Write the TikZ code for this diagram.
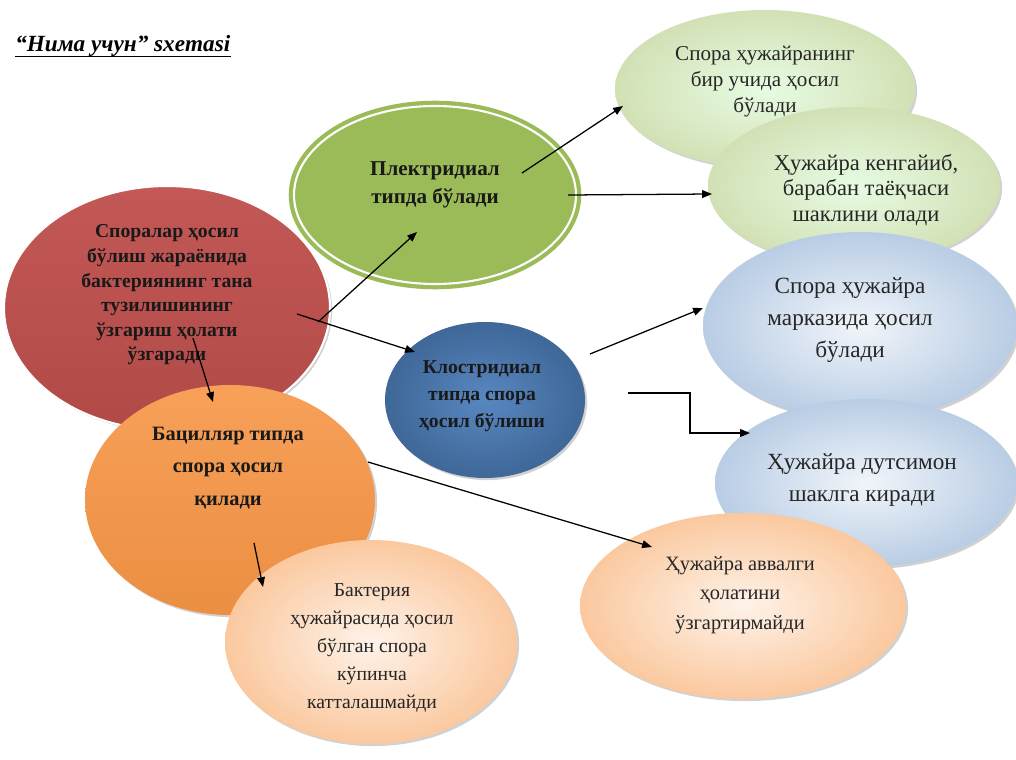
\documentclass[tikz,border=0pt]{standalone}
\usepackage{fontspec}
\setmainfont{Liberation Serif}
\usepackage{tikz}
\usetikzlibrary{shapes.geometric, shadows, arrows.meta}

\definecolor{redC}{HTML}{C0504D}
\definecolor{greenC}{HTML}{9BBB59}
\definecolor{blueC}{HTML}{4F81BD}
\definecolor{orangeC}{HTML}{F79646}

\newcommand{\fsz}[2]{\fontsize{#1}{#2}\selectfont}

\tikzset{
    blob/.style={ellipse, inner sep=0pt,
        drop shadow={shadow xshift=1.5pt, shadow yshift=-1.5pt, opacity=0.3, fill=black!60}},
    sz/.style 2 args={minimum width=#1*0.025cm, minimum height=#2*0.025cm},
    boldtxt/.style={align=center, text=black!90, inner sep=0pt},
    plaintxt/.style={align=center, text=black!85, inner sep=0pt},
    arr/.style={-{Triangle[length=7pt,width=5.5pt]}, line width=0.9pt},
}

\begin{document}
\begin{tikzpicture}[x=0.025cm, y=-0.025cm]

    \useasboundingbox (0,0) rectangle (1016,760);

    % -------------------------
    % Title
    % -------------------------
    \node[anchor=base west, inner sep=0pt, font=\bfseries\itshape\fsz{16.5}{19}] (title) at (15,52)
        {“Нима учун” sxemasi};
    \draw[line width=1pt] ([yshift=-3pt]title.base west) -- ([yshift=-3pt]title.base east);

    % -------------------------
    % Ellipses (back to front)
    % -------------------------
    \node[blob, sz={326}{244}, top color=redC!95!white, bottom color=redC!92!black,
          draw=white, line width=1.5pt] (red) at (167,308) {};

    \node[blob, sz={282}{178}, fill=greenC, draw=greenC, double=white,
          double distance=1.5pt, line width=3pt] (green) at (435,195) {};

    \node[blob, sz={300}{158}, inner color=green!8!white!95!greenC, outer color=greenC!45!white] (lgA) at (765,89) {};
    \node[blob, sz={292}{158}, inner color=green!8!white!95!greenC, outer color=greenC!45!white] (lgB) at (854,186) {};

    \node[blob, sz={314}{188}, inner color=blueC!8!white, outer color=blueC!40!white] (lbA) at (860,326) {};
    \node[blob, sz={302}{168}, inner color=blueC!8!white, outer color=blueC!40!white] (lbB) at (866,483) {};

    \node[blob, sz={326}{186}, inner color=orangeC!12!white, outer color=orangeC!52!white] (loA) at (743,606) {};

    \node[blob, sz={200}{156}, inner color=blueC!95!white, outer color=blueC!80!black] (blue) at (485,400) {};

    \node[blob, sz={290}{230}, top color=orangeC!90!white, bottom color=orangeC!95!black] (orange) at (230,500) {};

    \node[blob, sz={292}{204}, inner color=orangeC!12!white, outer color=orangeC!52!white] (loB) at (371,642) {};

    % -------------------------
    % Texts
    % -------------------------
    \node[boldtxt, font=\bfseries\fsz{14}{17.5}] (redTxt) at (167,295)
        {Споралар ҳосил\\ бўлиш жараёнида\\ бактериянинг тана\\ тузилишининг\\ ўзгариш ҳолати\\ ўзгаради};
    \node[boldtxt, font=\bfseries\fsz{15}{20}] (greenTxt) at (435,185)
        {Плектридиал\\ типда бўлади};
    \node[boldtxt, font=\bfseries\fsz{14}{19}] (blueTxt) at (482,396)
        {Клостридиал\\ типда спора\\ ҳосил бўлиши};
    \node[boldtxt, font=\bfseries\fsz{14.5}{23}] (orangeTxt) at (228,468)
        {Бацилляр типда\\ спора ҳосил\\ қилади};

    \node[plaintxt, font=\fsz{15}{18.5}] (lgATxt) at (765,82)
        {Спора ҳужайранинг\\ бир учида ҳосил\\ бўлади};
    \node[plaintxt, font=\fsz{16}{18}] (lgBTxt) at (866,190)
        {Ҳужайра кенгайиб,\\ барабан таёқчаси\\ шаклини олади};
    \node[plaintxt, font=\fsz{16.5}{23}] (lbATxt) at (850,320)
        {Спора ҳужайра\\ марказида ҳосил\\ бўлади};
    \node[plaintxt, font=\fsz{16.5}{23}] (lbBTxt) at (862,480)
        {Ҳужайра дутсимон\\ шаклга киради};
    \node[plaintxt, font=\fsz{14.5}{21}] (loATxt) at (740,595)
        {Ҳужайра аввалги\\ ҳолатини\\ ўзгартирмайди};
    \node[plaintxt, font=\fsz{14}{20}] (loBTxt) at (372,648)
        {Бактерия\\ ҳужайрасида ҳосил\\ бўлган спора\\ кўпинча\\ катталашмайди};

    % -------------------------
    % Arrow ends
    % -------------------------
    \coordinate (r1) at (318,322);  \coordinate (g1) at (417,232);
    \coordinate (r2) at (297,314);  \coordinate (b1) at (415,352);
    \coordinate (r3) at (193,338);  \coordinate (o1) at (213,402);
    \coordinate (g2) at (522,173);  \coordinate (lgA1) at (623,106);
    \coordinate (g3) at (568,195);  \coordinate (lgB1) at (712,194);
    \coordinate (b2) at (590,354);  \coordinate (lbA1) at (703,308);
    \coordinate (b3) at (628,393);  \coordinate (lbB1) at (750,433);
    \coordinate (o2) at (368,462);  \coordinate (loA1) at (652,547);
    \coordinate (o3) at (254,543);  \coordinate (loB1) at (263,587);

    % -------------------------
    % Arrows
    % -------------------------
    \draw[arr] (r1) -- (g1);
    \draw[arr] (r2) -- (b1);
    \draw[arr] (r3) -- (o1);
    \draw[arr] (g2) -- (lgA1);
    \draw[arr] (g3) -- (lgB1);
    \draw[arr] (b2) -- (lbA1);
    \draw[arr] (b3) -- (690,393) |- (lbB1);
    \draw[arr] (o2) -- (loA1);
    \draw[arr] (o3) -- (loB1);

\end{tikzpicture}
\end{document}
